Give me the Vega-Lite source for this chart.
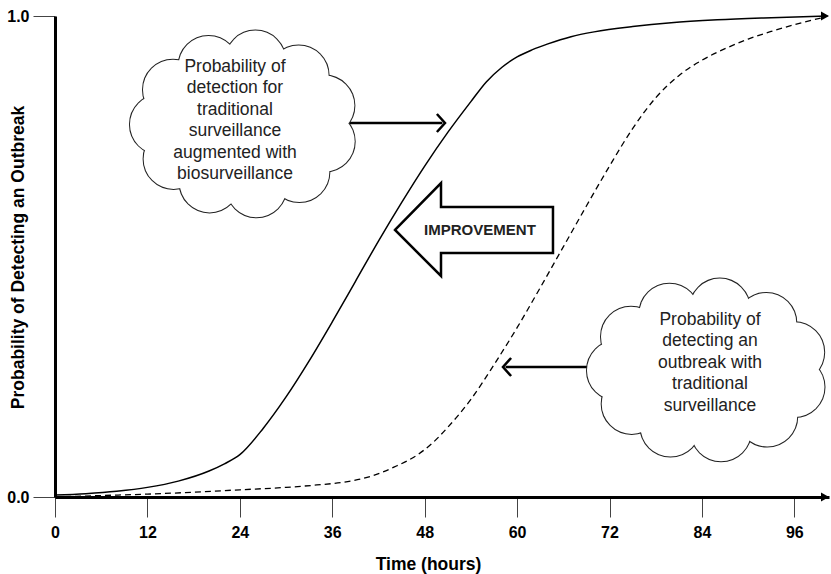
{
  "$schema": "https://vega.github.io/schema/vega-lite/v6.json",
  "width": 774,
  "height": 481,
  "autosize": "none",
  "padding": {"left": 55, "top": 16, "right": 2, "bottom": 77},
  "background": "white",
  "config": {"view": {"stroke": null}, "font": "Liberation Sans", "axis": {"grid": false}},
  "datasets": {
    "bio": [
      {"t": 0, "p": 0.004}, {"t": 4, "p": 0.007}, {"t": 8, "p": 0.012}, {"t": 12, "p": 0.02},
      {"t": 16, "p": 0.033}, {"t": 20, "p": 0.054}, {"t": 22, "p": 0.069}, {"t": 24, "p": 0.088},
      {"t": 27, "p": 0.142}, {"t": 30, "p": 0.208}, {"t": 33, "p": 0.283}, {"t": 36, "p": 0.364},
      {"t": 39, "p": 0.448}, {"t": 42, "p": 0.532}, {"t": 45, "p": 0.612}, {"t": 48, "p": 0.688},
      {"t": 51, "p": 0.758}, {"t": 54, "p": 0.822}, {"t": 56, "p": 0.863}, {"t": 58, "p": 0.893},
      {"t": 60, "p": 0.915}, {"t": 62, "p": 0.93}, {"t": 64, "p": 0.942}, {"t": 67, "p": 0.957},
      {"t": 70, "p": 0.967}, {"t": 75, "p": 0.978}, {"t": 80, "p": 0.986}, {"t": 86, "p": 0.992},
      {"t": 92, "p": 0.996}, {"t": 100.3, "p": 1.0}
    ],
    "trad": [
      {"t": 0, "p": 0.0}, {"t": 6, "p": 0.003}, {"t": 12, "p": 0.006}, {"t": 18, "p": 0.01},
      {"t": 24, "p": 0.015}, {"t": 30, "p": 0.02}, {"t": 34, "p": 0.025}, {"t": 38, "p": 0.032},
      {"t": 41, "p": 0.043}, {"t": 44, "p": 0.062}, {"t": 47, "p": 0.087}, {"t": 49, "p": 0.112},
      {"t": 51, "p": 0.145}, {"t": 54, "p": 0.203}, {"t": 57, "p": 0.275}, {"t": 60, "p": 0.352},
      {"t": 63, "p": 0.435}, {"t": 66, "p": 0.52}, {"t": 69, "p": 0.605}, {"t": 72, "p": 0.688},
      {"t": 75, "p": 0.766}, {"t": 78, "p": 0.83}, {"t": 81, "p": 0.876}, {"t": 84, "p": 0.908},
      {"t": 87, "p": 0.932}, {"t": 90, "p": 0.952}, {"t": 93, "p": 0.968}, {"t": 96, "p": 0.982},
      {"t": 99.8, "p": 0.997}
    ],
    "arrows": [
      {"t": 38.2, "p": 0.7775, "id": "a"}, {"t": 50.3, "p": 0.7775, "id": "a"},
      {"t": 69.47, "p": 0.2703, "id": "b"}, {"t": 58.5, "p": 0.2703, "id": "b"}
    ],
    "heads": [
      {"t": 50.64, "p": 0.7775, "dir": "right"},
      {"t": 58.17, "p": 0.2703, "dir": "left"}
    ],
    "tips": [
      {"t": 100.5, "p": 0.0},
      {"t": 100.5, "p": 1.0}
    ],
    "block": [
      {"t": 44.15, "p": 0.5551, "k": 1}, {"t": 50.12, "p": 0.6528, "k": 2}, {"t": 50.12, "p": 0.6029, "k": 3},
      {"t": 64.66, "p": 0.6029, "k": 4}, {"t": 64.66, "p": 0.5073, "k": 5}, {"t": 50.12, "p": 0.5073, "k": 6},
      {"t": 50.12, "p": 0.4595, "k": 7}, {"t": 44.15, "p": 0.5551, "k": 8}, {"t": 50.12, "p": 0.6528, "k": 9}
    ],
    "improve": [{"t": 55.18, "p": 0.5551, "txt": "IMPROVEMENT"}],
    "puffs": [
      {"t": 35.02, "p": 0.7389}, {"t": 31.73, "p": 0.6755}, {"t": 26.16, "p": 0.6439}, {"t": 20.07, "p": 0.6541},
      {"t": 15.4, "p": 0.7029}, {"t": 13.63, "p": 0.7746}, {"t": 15.32, "p": 0.8466}, {"t": 19.94, "p": 0.896},
      {"t": 26.02, "p": 0.9073}, {"t": 31.63, "p": 0.8765}, {"t": 34.98, "p": 0.8137},
      {"t": 19.35, "p": 0.7755}, {"t": 24.54, "p": 0.7755}, {"t": 29.73, "p": 0.7755},
      {"t": 21.94, "p": 0.817}, {"t": 27.14, "p": 0.817}, {"t": 21.94, "p": 0.7339}, {"t": 27.14, "p": 0.7339},
      {"t": 96.02, "p": 0.2285}, {"t": 92.48, "p": 0.1672}, {"t": 86.48, "p": 0.1366}, {"t": 79.91, "p": 0.1464},
      {"t": 74.88, "p": 0.1936}, {"t": 72.97, "p": 0.2632}, {"t": 74.79, "p": 0.3331}, {"t": 79.78, "p": 0.3809},
      {"t": 86.32, "p": 0.3917}, {"t": 92.36, "p": 0.362}, {"t": 95.98, "p": 0.301},
      {"t": 84.72, "p": 0.264}, {"t": 79.53, "p": 0.264}, {"t": 89.92, "p": 0.264},
      {"t": 82.13, "p": 0.3056}, {"t": 87.32, "p": 0.3056}, {"t": 82.13, "p": 0.2225}, {"t": 87.32, "p": 0.2225}
    ],
    "notes": [
      {"t": 23.37, "p": 0.894, "txt": "Probability of\ndetection for\ntraditional\nsurveillance\naugmented with\nbiosurveillance"},
      {"t": 85.05, "p": 0.368, "txt": "Probability of\ndetecting an\noutbreak with\ntraditional\nsurveillance"}
    ]
  },
  "encoding": {
    "x": {
      "field": "t", "type": "quantitative",
      "scale": {"domain": [0, 100.5], "nice": false, "zero": false},
      "axis": {
        "title": "Time (hours)", "values": [0, 12, 24, 36, 48, 60, 72, 84, 96],
        "domainWidth": 3, "domainColor": "#000", "tickSize": 20, "tickWidth": 1, "tickColor": "#444",
        "labelFont": "Liberation Sans", "labelFontWeight": "bold", "labelFontSize": 16, "labelColor": "#000",
        "labelPadding": 7, "labelFlush": false,
        "titleFont": "Liberation Sans", "titleFontWeight": "bold", "titleFontSize": 17.5, "titleColor": "#000",
        "titleX": 373, "titleY": 72, "titleBaseline": "alphabetic", "titleAlign": "center"
      }
    },
    "y": {
      "field": "p", "type": "quantitative",
      "scale": {"domain": [0, 1], "nice": false},
      "axis": {
        "title": "Probability of Detecting an Outbreak", "values": [0, 1], "format": ".1f",
        "domainWidth": 3, "domainColor": "#000", "tickSize": 22, "tickWidth": 1, "tickColor": "#444",
        "labelFont": "Liberation Sans", "labelFontWeight": "bold", "labelFontSize": 16, "labelColor": "#000",
        "labelPadding": 4, "labelFlush": false,
        "titleFont": "Liberation Sans", "titleFontWeight": "bold", "titleFontSize": 17.5, "titleColor": "#000",
        "titleX": -37, "titleY": 241, "titleAngle": -90, "titleAlign": "center", "titleBaseline": "middle"
      }
    }
  },
  "layer": [
    {"data": {"name": "bio"}, "mark": {"type": "line", "color": "#000", "strokeWidth": 1.5, "interpolate": "monotone"}},
    {"data": {"name": "trad"}, "mark": {"type": "line", "color": "#000", "strokeWidth": 1.3, "strokeDash": [6, 4], "interpolate": "monotone"}},
    {"data": {"name": "arrows"}, "mark": {"type": "line", "color": "#000", "strokeWidth": 2.5}, "encoding": {"detail": {"field": "id"}}},
    {
      "data": {"name": "heads"},
      "mark": {"type": "point", "filled": false, "stroke": "#000", "strokeWidth": 2.5, "size": 324, "opacity": 1, "strokeJoin": "miter"},
      "encoding": {"shape": {"field": "dir", "type": "nominal", "scale": {"domain": ["right", "left"], "range": ["M-0.9,-1L0,0L-0.9,1", "M0.9,-1L0,0L0.9,1"]}, "legend": null}}
    },
    {"data": {"name": "tips"}, "mark": {"type": "point", "filled": true, "color": "#000", "size": 256, "opacity": 1, "shape": "M-1,-0.55L0,0L-1,0.55Z"}},
    {"data": {"name": "block"}, "mark": {"type": "line", "color": "#000", "strokeWidth": 2.5, "strokeJoin": "miter"}, "encoding": {"order": {"field": "k", "type": "quantitative"}}},
    {"data": {"name": "improve"}, "mark": {"type": "text", "font": "Liberation Sans", "fontWeight": "bold", "fontSize": 15, "color": "#222", "align": "center", "baseline": "middle"}, "encoding": {"text": {"field": "txt"}}},
    {"data": {"name": "puffs"}, "mark": {"type": "circle", "size": 3600, "fill": "#fff", "stroke": "#222", "strokeWidth": 2, "opacity": 1}},
    {"data": {"name": "puffs"}, "mark": {"type": "circle", "size": 3600, "fill": "#fff", "strokeWidth": 0, "opacity": 1}},
    {"data": {"name": "notes"}, "mark": {"type": "text", "font": "Liberation Sans", "fontSize": 17.5, "lineBreak": "\n", "lineHeight": 21.5, "align": "center", "baseline": "middle", "color": "#222"}, "encoding": {"text": {"field": "txt"}}}
  ]
}
